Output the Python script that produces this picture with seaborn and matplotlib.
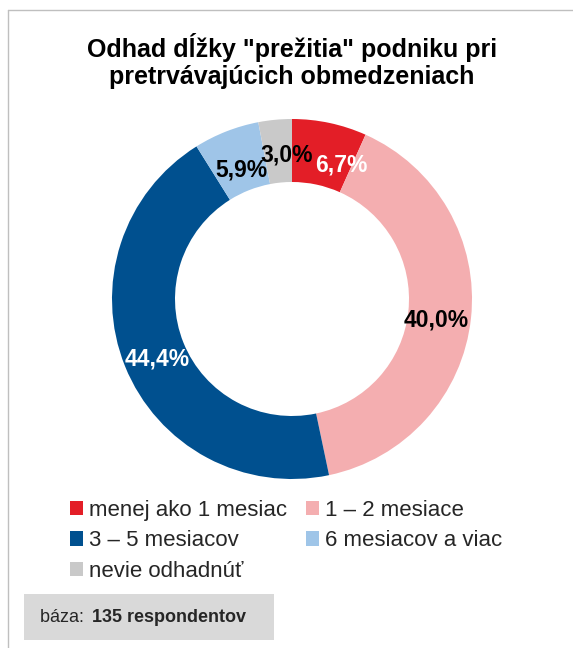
import matplotlib
matplotlib.use("Agg")
import matplotlib.pyplot as plt
import seaborn as sns
import numpy as np
from matplotlib.patches import Patch, Rectangle
from matplotlib.lines import Line2D

# ---- data ----
categories = ["menej ako 1 mesiac", "1 – 2 mesiace", "3 – 5 mesiacov",
              "6 mesiacov a viac", "nevie odhadnúť"]
values = [6.7, 40.0, 44.4, 5.9, 3.0]
labels = ["6,7%", "40,0%", "44,4%", "5,9%", "3,0%"]
colors = ["#E31E27", "#F4AEB0", "#00508F", "#9FC5E8", "#C9C9C9"]
label_colors = ["white", "black", "white", "black", "black"]
title = 'Odhad dĺžky "prežitia" podniku pri\npretrvávajúcich obmedzeniach'

# label nudges (pixels, right / down) mimicking the original's label placement
label_nudges = [(18, 12), (-4, 5), (4, 4), (4, 10), (9, 5)]

sns.set_theme(style="white")
plt.rcParams["font.family"] = ["Liberation Sans", "DejaVu Sans"]

W, H = 573, 648
fig = plt.figure(figsize=(W / 100, H / 100), dpi=100)
fig.patch.set_facecolor("white")

# donut axes (square 360 px, centred at 292, 299 px)
cx, cy, R = 292, 299, 180
ax = fig.add_axes([(cx - R) / W, (H - cy - R) / H, 2 * R / W, 2 * R / H])
wedges, _ = ax.pie(values, colors=sns.color_palette(colors), startangle=90,
                   counterclock=False, radius=1.0,
                   wedgeprops=dict(width=0.35, edgecolor="none"))
ax.set_xlim(-1, 1)
ax.set_ylim(-1, 1)
ax.set_aspect("equal")
ax.axis("off")

r_lab = 0.83
for w, lab, lc, (dx, dy) in zip(wedges, labels, label_colors, label_nudges):
    ang = np.deg2rad((w.theta1 + w.theta2) / 2)
    ax.annotate(lab, (r_lab * np.cos(ang), r_lab * np.sin(ang)),
                xytext=(dx, -dy), textcoords="offset pixels",
                ha="center", va="center", fontsize=16.5, fontweight="bold",
                color=lc)

# title
fig.text(0.509, 1 - 61 / H, title, ha="center", va="center", fontsize=18,
         fontweight="bold", color="black", linespacing=1.15)

# legend (row-major order as in reference)
handles = [Patch(facecolor=c, edgecolor="none") for c in colors]
order = [0, 2, 4, 1, 3]
fig.legend([handles[i] for i in order], [categories[i] for i in order],
           loc="upper left", bbox_to_anchor=(70 / W, 1 - 500 / H), ncol=2,
           frameon=False, fontsize=16, handlelength=0.6, handleheight=0.6,
           handletextpad=0.25, columnspacing=0.85, labelspacing=0.42,
           borderpad=0, borderaxespad=0)

# footer box
fig.patches.append(Rectangle((24 / W, 1 - 640 / H), 250 / W, 46 / H,
                             transform=fig.transFigure, facecolor="#D9D9D9",
                             edgecolor="none", zorder=0))
fig.text(40 / W, 1 - 618 / H, "báza: ", ha="left", va="center", fontsize=13)
fig.text(92 / W, 1 - 618 / H, "135 respondentov", ha="left", va="center",
         fontsize=13, fontweight="bold")

# frame lines
fig.add_artist(Line2D([8 / W, 1], [1 - 10 / H, 1 - 10 / H],
                      transform=fig.transFigure, color="#BFBFBF", lw=1))
fig.add_artist(Line2D([8 / W, 8 / W], [1 - 10 / H, 0],
                      transform=fig.transFigure, color="#BFBFBF", lw=1))

fig.savefig("out.png", dpi=100)
